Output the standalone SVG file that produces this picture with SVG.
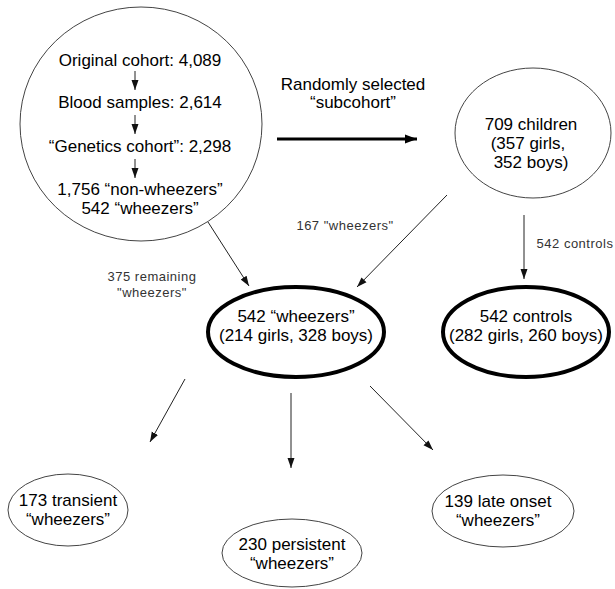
<svg xmlns="http://www.w3.org/2000/svg" width="615" height="589" viewBox="0 0 615 589">
<style>
.t{font-family:"Liberation Sans",Arial,sans-serif;font-size:17px;fill:#000;text-anchor:middle}
.s{font-family:"Liberation Sans",Arial,sans-serif;font-size:13px;fill:#333;text-anchor:middle;letter-spacing:0.5px}
.thin{fill:none;stroke:#444;stroke-width:1}
.thick{fill:none;stroke:#000;stroke-width:4}
.c{stroke:#222;stroke-width:1;fill:none;marker-end:url(#ah)}
</style>
<defs>
<marker id="ah" markerUnits="userSpaceOnUse" markerWidth="10" markerHeight="10" viewBox="0 0 10 10" refX="10" refY="5" orient="auto">
<path d="M0,1.5 L10,5 L0,8.5 Z" fill="#111"/>
</marker>
<marker id="ahb" markerUnits="userSpaceOnUse" markerWidth="12" markerHeight="12" viewBox="0 0 12 12" refX="12" refY="6" orient="auto">
<path d="M0,1.5 L12,6 L0,10.5 Z" fill="#000"/>
</marker>
</defs>
<rect width="615" height="589" fill="#fff"/>
<g id="cohort">
<ellipse class="thin" cx="141" cy="124" rx="121" ry="117"/>
<text class="t" x="140" y="66">Original cohort: 4,089</text>
<text class="t" x="140" y="108">Blood samples: 2,614</text>
<text class="t" x="140" y="152">“Genetics cohort”: 2,298</text>
<text class="t" x="140" y="195">1,756 “non-wheezers”</text>
<text class="t" x="140" y="214">542 “wheezers”</text>
<line class="c" x1="135" y1="71" x2="135" y2="90"/>
<line class="c" x1="135" y1="115" x2="135" y2="134"/>
<line class="c" x1="135" y1="159" x2="135" y2="178"/>
</g>
<g id="subcohort">
<ellipse class="thin" cx="533" cy="133" rx="78" ry="65"/>
<text class="t" x="531" y="130">709 children</text>
<text class="t" x="528" y="149">(357 girls,</text>
<text class="t" x="531" y="168">352 boys)</text>
</g>
<g id="wheezers">
<ellipse class="thick" cx="296" cy="332" rx="88" ry="45"/>
<text class="t" x="296" y="322">542 “wheezers”</text>
<text class="t" x="296" y="341">(214 girls, 328 boys)</text>
</g>
<g id="controls">
<ellipse class="thick" cx="526" cy="332" rx="83" ry="45"/>
<text class="t" x="526" y="322">542 controls</text>
<text class="t" x="526" y="341">(282 girls, 260 boys)</text>
</g>
<g id="transient">
<ellipse class="thin" cx="68" cy="510" rx="60" ry="36"/>
<text class="t" x="68" y="506">173 transient</text>
<text class="t" x="68" y="525">“wheezers”</text>
</g>
<g id="persistent">
<ellipse class="thin" cx="292" cy="553" rx="70" ry="34"/>
<text class="t" x="292" y="550">230 persistent</text>
<text class="t" x="292" y="569">“wheezers”</text>
</g>
<g id="lateonset">
<ellipse class="thin" cx="503" cy="511" rx="71" ry="36"/>
<text class="t" x="498" y="507">139 late onset</text>
<text class="t" x="498" y="526">“wheezers”</text>
</g>
<g id="connectors">
<line x1="277" y1="139" x2="417" y2="139" stroke="#000" stroke-width="3" marker-end="url(#ahb)"/>
<text class="t" x="353" y="90">Randomly selected</text>
<text class="t" x="353" y="108">“subcohort”</text>
<line class="c" x1="208" y1="222" x2="249" y2="286"/>
<text class="s" x="152" y="281">375 remaining</text>
<text class="s" x="152" y="297">"wheezers"</text>
<line class="c" x1="447" y1="195" x2="357" y2="287"/>
<text class="s" x="345" y="230">167 "wheezers"</text>
<line class="c" x1="524" y1="215" x2="524" y2="279"/>
<text class="s" x="575" y="248">542 controls</text>
<line class="c" x1="185" y1="379" x2="150" y2="442"/>
<line class="c" x1="291" y1="393" x2="291" y2="468"/>
<line class="c" x1="370" y1="386" x2="433" y2="450"/>
</g>
</svg>
